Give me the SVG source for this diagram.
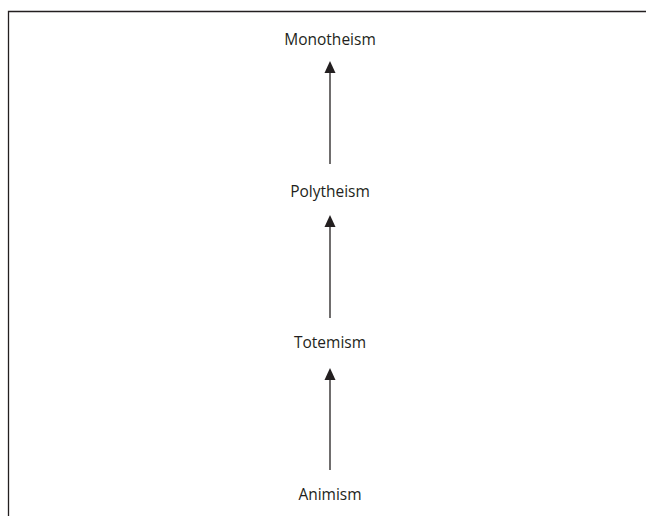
<svg xmlns="http://www.w3.org/2000/svg" width="646" height="516" viewBox="0 0 646 516">
<style>
.lbl{font-family:"Open Sans","Liberation Sans",sans-serif;font-size:15.5px;fill:#231f20;text-anchor:middle}
.conn{stroke:#231f20;stroke-width:1.3;fill:none}
.head{fill:#231f20}
</style>
<rect width="646" height="516" fill="#fff"/>
<path d="M8.5,516 V11.5 H646" fill="none" stroke="#231f20" stroke-width="1.3"/>
<g id="monotheism"><text class="lbl" x="330" y="45">Monotheism</text></g>
<g id="polytheism"><text class="lbl" x="330" y="197">Polytheism</text></g>
<g id="totemism"><text class="lbl" x="330" y="348">Totemism</text></g>
<g id="animism"><text class="lbl" x="330" y="500">Animism</text></g>
<g id="connectors">
<line class="conn" x1="330" y1="164" x2="330" y2="71"/>
<polygon class="head" points="330,61 324.5,73 335.5,73"/>
<line class="conn" x1="330" y1="318" x2="330" y2="225"/>
<polygon class="head" points="330,215 324.5,227 335.5,227"/>
<line class="conn" x1="330" y1="470" x2="330" y2="378"/>
<polygon class="head" points="330,368 324.5,380 335.5,380"/>
</g>
</svg>
